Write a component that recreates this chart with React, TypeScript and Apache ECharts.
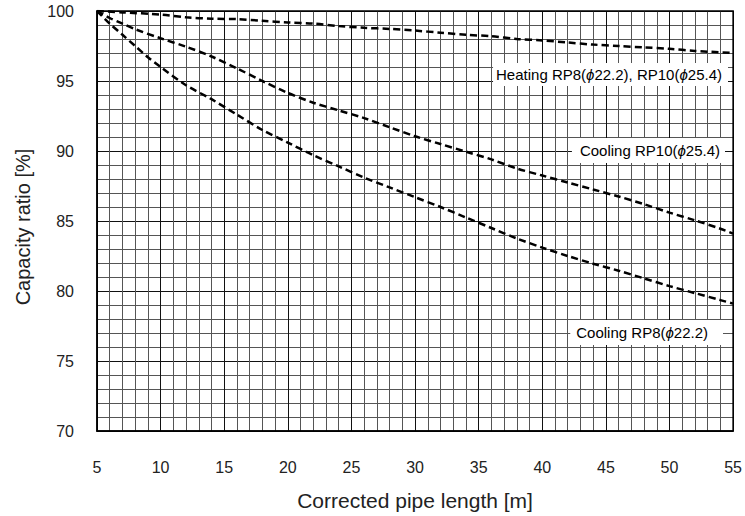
import React, { useEffect, useRef } from "react";
import * as echarts from "echarts";

const heatingData: [number, number][] = [
  [5, 100], [7, 99.9], [10, 99.75], [12, 99.55], [14, 99.45], [16, 99.42], [18, 99.3],
  [20, 99.18], [22, 99.1], [24, 98.92], [26, 98.8], [28, 98.72], [30, 98.6], [32, 98.45],
  [34, 98.3], [36, 98.2], [38, 98.0], [40, 97.9], [42, 97.75], [44, 97.6], [46, 97.5],
  [48, 97.4], [50, 97.3], [52, 97.15], [55, 97.0],
];

const coolingRP10Data: [number, number][] = [
  [5, 100], [6, 99.5], [7, 99.1], [8, 98.7], [10, 98.05], [12, 97.45], [14, 96.75],
  [16, 95.9], [18, 95.0], [20, 94.15], [22, 93.45], [24, 92.9], [26, 92.35], [28, 91.7],
  [30, 91.05], [32, 90.5], [34, 89.95], [36, 89.4], [38, 88.75], [40, 88.25], [42, 87.75],
  [44, 87.25], [46, 86.75], [48, 86.2], [50, 85.6], [52, 85.05], [54, 84.45], [55, 84.1],
];

const coolingRP8Data: [number, number][] = [
  [5, 100], [6, 99.1], [7, 98.3], [8, 97.5], [9, 96.7], [10, 96.0], [12, 94.7], [14, 93.7],
  [16, 92.6], [18, 91.5], [20, 90.6], [22, 89.7], [24, 88.9], [26, 88.1], [28, 87.4],
  [30, 86.7], [32, 86.0], [34, 85.25], [36, 84.5], [38, 83.75], [40, 83.1], [42, 82.5],
  [44, 81.95], [46, 81.45], [48, 80.9], [50, 80.35], [52, 79.85], [54, 79.35], [55, 79.1],
];

const xTicks = { min: 5, max: 55, interval: 5 };
const yTicks = { min: 70, max: 100, interval: 5 };

const labelTexts = {
  heating: ["Heating RP8(", "ϕ", "22.2), RP10(", "ϕ", "25.4)"],
  rp10: ["Cooling RP10(", "ϕ", "25.4)"],
  rp8: ["Cooling RP8(", "ϕ", "22.2)"],
};

const FONT = "'Liberation Sans', Arial, sans-serif";

function richText(parts: string[]) {
  return parts.map((p, i) => (i % 2 === 1 ? `{i|${p}}` : `{n|${p}}`)).join("");
}

export default function App() {
  const ref = useRef<HTMLDivElement>(null);
  useEffect(() => {
    if (!ref.current) return;
    const chart = echarts.init(ref.current, undefined, { renderer: "svg" });
    const rich = {
      n: { fontSize: 15, fontFamily: FONT, color: "#222" },
      i: { fontSize: 15, fontFamily: FONT, color: "#222", fontStyle: "italic" },
    };
    const mkLabel = (parts: string[], right: number, top: number, padding: number[]) => ({
      type: "text",
      right,
      top,
      z: 100,
      style: {
        text: richText(parts),
        rich,
        backgroundColor: "#fff",
        padding,
        fontFamily: FONT,
        fontSize: 15,
      },
    });
    const lineStyle = { color: "#000", width: 2.5, type: [7, 4] as number[] };
    chart.setOption({
      animation: false,
      backgroundColor: "#fff",
      grid: {
        left: 97,
        top: 11,
        right: 10,
        bottom: 85,
        show: true,
        borderColor: "#000",
        borderWidth: 1.5,
        z: 3,
      },
      xAxis: {
        type: "value",
        min: xTicks.min,
        max: xTicks.max,
        interval: xTicks.interval,
        name: "Corrected pipe length [m]",
        nameLocation: "middle",
        nameGap: 59,
        nameTextStyle: { fontSize: 21, fontFamily: FONT, color: "#222" },
        axisLine: { show: true, lineStyle: { color: "#000", width: 1.5 } },
        axisTick: { show: false },
        axisLabel: { fontSize: 16, fontFamily: FONT, color: "#222", margin: 28 },
        splitLine: { show: true, lineStyle: { color: "#111", width: 1 } },
        minorTick: { show: false, splitNumber: 5 },
        minorSplitLine: { show: true, lineStyle: { color: "#555", width: 1 } },
      },
      yAxis: {
        type: "value",
        min: yTicks.min,
        max: yTicks.max,
        interval: yTicks.interval,
        name: "Capacity ratio [%]",
        nameLocation: "middle",
        nameGap: 64,
        nameTextStyle: { fontSize: 20, fontFamily: FONT, color: "#222", padding: [0, 12, 0, 0] },
        axisLine: { show: true, lineStyle: { color: "#000", width: 1.5 } },
        axisTick: { show: false },
        axisLabel: { fontSize: 16, fontFamily: FONT, color: "#222", margin: 23 },
        splitLine: { show: true, lineStyle: { color: "#111", width: 1 } },
        minorTick: { show: false, splitNumber: 5 },
        minorSplitLine: { show: true, lineStyle: { color: "#555", width: 1 } },
      },
      series: [
        { name: "Heating", type: "line", data: heatingData, showSymbol: false, smooth: 0.3, lineStyle, z: 5 },
        { name: "Cooling RP10", type: "line", data: coolingRP10Data, showSymbol: false, smooth: 0.3, lineStyle, z: 5 },
        { name: "Cooling RP8", type: "line", data: coolingRP8Data, showSymbol: false, smooth: 0.3, lineStyle, z: 5 },
      ],
      graphic: [
        mkLabel(labelTexts.heating, 17, 63, [4, 6, 4, 3]),
        mkLabel(labelTexts.rp10, 20, 138, [5, 5, 5, 8]),
        mkLabel(labelTexts.rp8, 22, 320, [5, 15, 5, 6]),
      ],
    });
    return () => chart.dispose();
  }, []);
  return (
    <div
      ref={ref}
      style={{ position: "fixed", left: 0, top: 0, width: 745, height: 516, background: "#fff" }}
    />
  );
}
